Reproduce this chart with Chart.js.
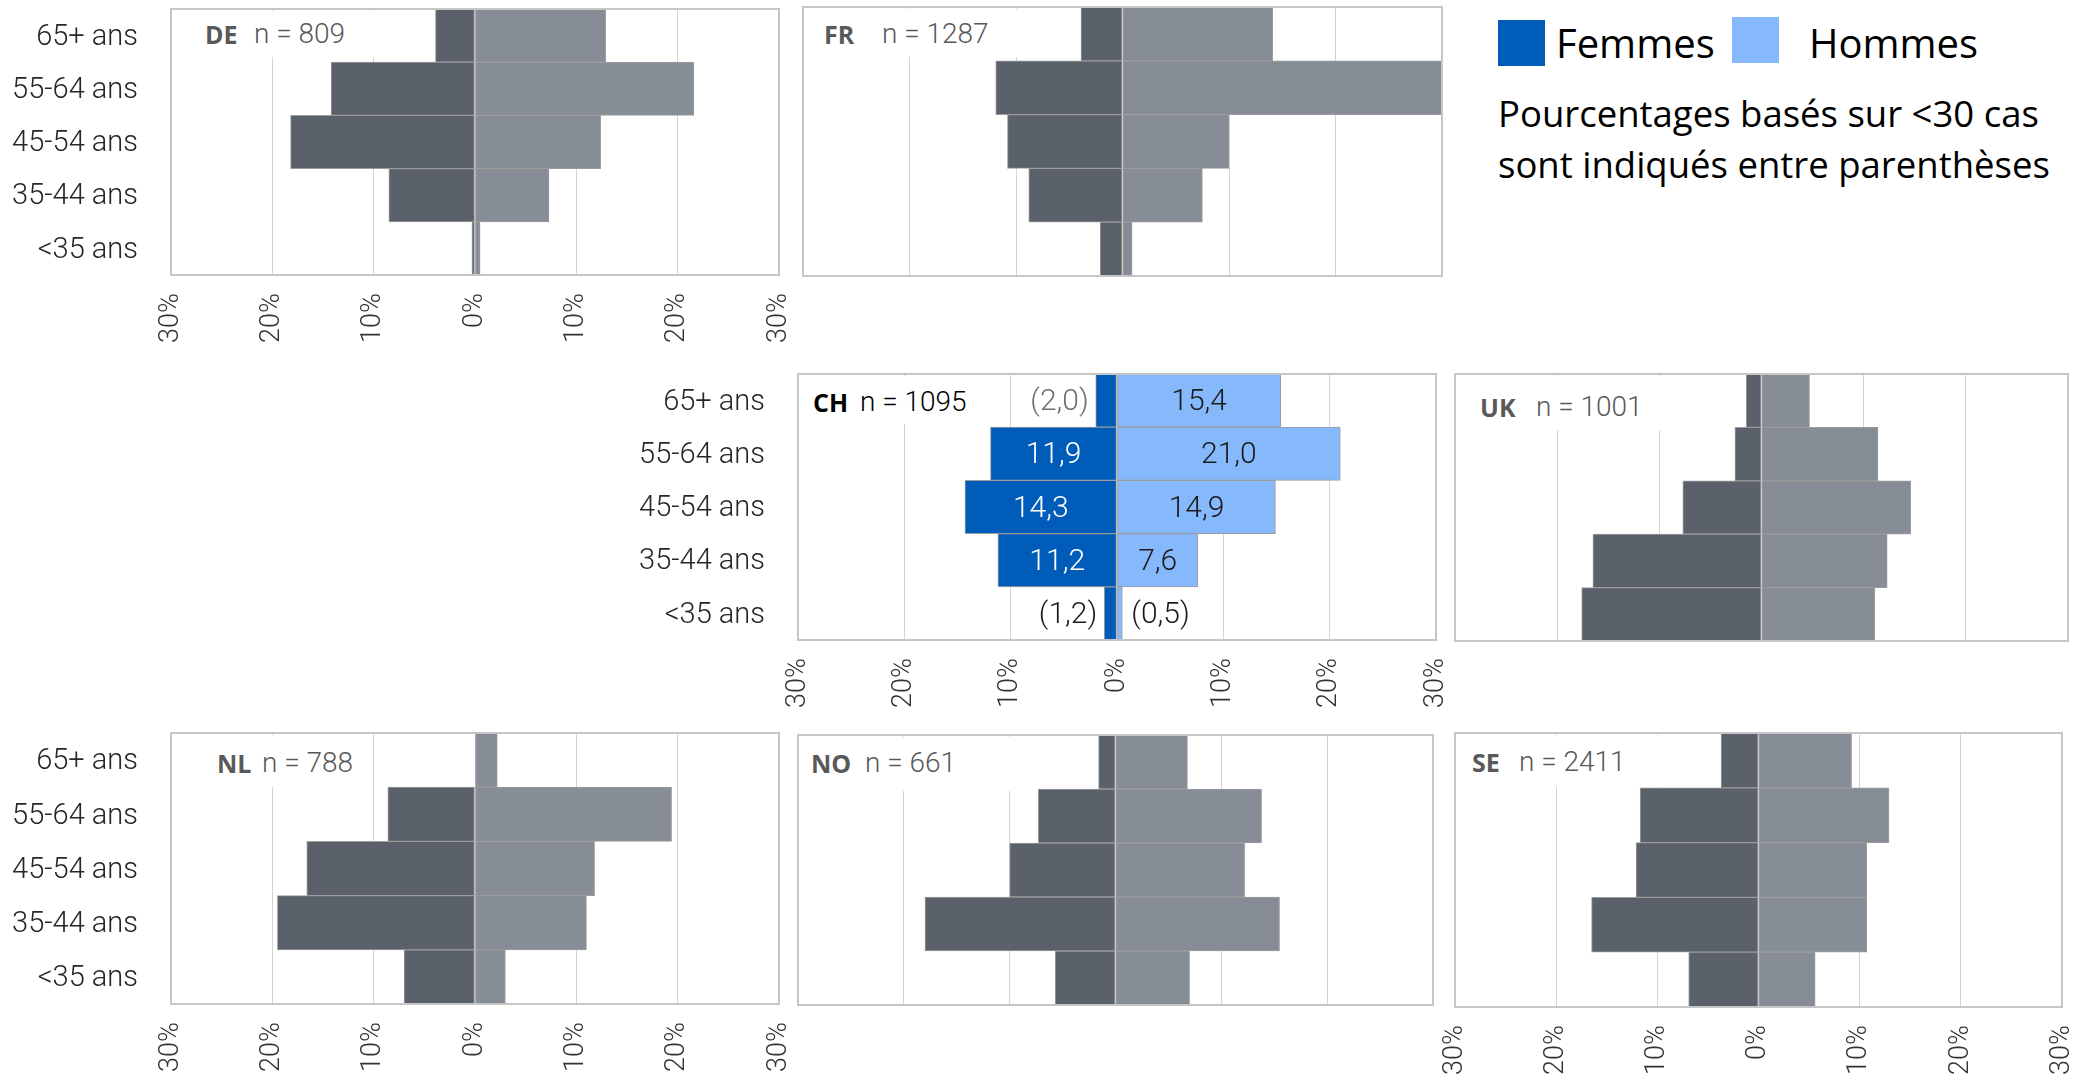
<!DOCTYPE html>
<html>
<head>
<meta charset="utf-8">
<script src="https://cdn.jsdelivr.net/npm/chart.js@4.4.1/dist/chart.umd.min.js"></script>
<style>
  html, body { margin: 0; padding: 0; background: #fff; }
  body { position: relative; width: 2073px; height: 1077px; overflow: hidden; }
  canvas { position: absolute; }
  .pbox { position: absolute; background: #fff; z-index: 2; }
  .pbox span { position: absolute; line-height: 1; white-space: nowrap; }
  .code { font-family: 'Open Sans', 'Noto Sans', sans-serif; font-weight: 700; font-size: 25px; }
  .nval { font-family: 'Roboto', sans-serif; font-weight: 300; font-size: 28px; }
  .legsq { position: absolute; width: 47px; height: 46px; }
  .legtxt { position: absolute; font-family: 'Open Sans', 'Noto Sans', sans-serif; font-size: 40px; line-height: 1; color: #000; white-space: nowrap; }
  .note { position: absolute; left: 1498px; top: 88px; font-family: 'Open Sans', 'Noto Sans', sans-serif; font-size: 36.5px; line-height: 51px; color: #000; white-space: nowrap; }
</style>
</head>
<body>
<script>
// ---------- DATA ----------
const ageGroups = ['65+ ans', '55-64 ans', '45-54 ans', '35-44 ans', '<35 ans'];
const seriesNames = ['Femmes', 'Hommes'];
const axisMin = -30;
const axisMax = 30;
const axisStep = 10;

const deFemmes = [3.9, 14.2, 18.2, 8.5, 0.3];
const deHommes = [12.9, 21.6, 12.4, 7.3, 0.5];
const frFemmes = [3.9, 11.9, 10.8, 8.8, 2.1];
const frHommes = [14.1, 30.0, 10.0, 7.5, 0.9];
const chFemmes = [2.0, 11.9, 14.3, 11.2, 1.2];
const chHommes = [15.4, 21.0, 14.9, 7.6, 0.5];
const ukFemmes = [1.5, 2.6, 7.7, 16.5, 17.6];
const ukHommes = [4.7, 11.4, 14.6, 12.3, 11.1];
const nlFemmes = [0.0, 8.6, 16.6, 19.5, 7.0];
const nlHommes = [2.2, 19.4, 11.8, 11.0, 3.0];
const noFemmes = [1.6, 7.3, 10.0, 18.0, 5.7];
const noHommes = [6.8, 13.8, 12.2, 15.5, 7.0];
const seFemmes = [3.7, 11.7, 12.1, 16.5, 6.9];
const seHommes = [9.2, 12.9, 10.7, 10.7, 5.6];

// CH: percentages based on < 30 cases (shown in parentheses)
const chFemmesSmallN = [true, false, false, false, true];
const chHommesSmallN = [false, false, false, false, true];

const countryCodes = ['DE', 'FR', 'CH', 'UK', 'NL', 'NO', 'SE'];
const sampleSizes = [809, 1287, 1095, 1001, 788, 661, 2411];

// ---------- STYLE / LAYOUT ----------
const labelFont = "'Roboto', sans-serif";
const greyDark = '#5a616b', greyLight = '#878d96';
const blueDark = '#005cb9', blueLight = '#86b9fb';

const panels = [
  { fem: deFemmes, hom: deHommes, left: 171, top: 9, right: 779, bottom: 275, yLab: true, xLab: true,
    box: { w: 219, h: 46, cx: 34, nx: 83, base: 35 } },
  { fem: frFemmes, hom: frHommes, left: 803, top: 7, right: 1442, bottom: 276, yLab: false, xLab: false,
    box: { w: 222, h: 48, cx: 21, nx: 79, base: 37 } },
  { fem: chFemmes, hom: chHommes, left: 798, top: 374, right: 1436, bottom: 640, yLab: true, xLab: true, highlight: true,
    box: { w: 182, h: 48, cx: 15, nx: 62, base: 38 } },
  { fem: ukFemmes, hom: ukHommes, left: 1455, top: 374, right: 2068, bottom: 641, yLab: false, xLab: false,
    box: { w: 210, h: 54, cx: 25, nx: 81, base: 43 } },
  { fem: nlFemmes, hom: nlHommes, left: 171, top: 733, right: 779, bottom: 1004, yLab: true, xLab: true,
    box: { w: 189, h: 52, cx: 46, nx: 91, base: 40 } },
  { fem: noFemmes, hom: noHommes, left: 798, top: 735, right: 1433, bottom: 1005, yLab: false, xLab: false,
    box: { w: 217, h: 54, cx: 13, nx: 67, base: 38 } },
  { fem: seFemmes, hom: seHommes, left: 1455, top: 733, right: 2062, bottom: 1007, yLab: false, xLab: true,
    box: { w: 207, h: 52, cx: 17, nx: 64, base: 39 } }
];

const framePlugin = {
  id: 'panelFrame',
  afterDraw(chart) {
    const { ctx, chartArea: a } = chart;
    ctx.save();
    ctx.strokeStyle = '#c6c6c6';
    ctx.lineWidth = 2;
    ctx.strokeRect(a.left, a.top, a.right - a.left, a.bottom - a.top);
    ctx.restore();
  }
};

const valueLabelPlugin = {
  id: 'valueLabels',
  afterDatasetsDraw(chart, args, opts) {
    if (!opts || !opts.enabled) return;
    const ctx = chart.ctx;
    chart.data.datasets.forEach((ds, di) => {
      const meta = chart.getDatasetMeta(di);
      meta.data.forEach((bar, i) => {
        const v = Math.abs(ds.data[i]);
        let txt = v.toFixed(1).replace('.', ',');
        const small = opts.smallN[di][i];
        ctx.save();
        ctx.font = '300 30px ' + labelFont;
        ctx.textBaseline = 'middle';
        let x;
        if (small) {
          txt = '(' + txt + ')';
          if (di === 0) { ctx.textAlign = 'right'; x = Math.min(bar.x, bar.base) - 7; }
          else { ctx.textAlign = 'left'; x = Math.max(bar.x, bar.base) + 9; }
          ctx.fillStyle = opts.outsideColors[di][i];
        } else {
          ctx.textAlign = 'center';
          x = (bar.x + bar.base) / 2;
          ctx.fillStyle = opts.insideColors[di];
        }
        ctx.fillText(txt, x, bar.y + 2);
        ctx.restore();
      });
    });
  }
};

Chart.defaults.font.family = labelFont;

function buildPanel(p, idx) {
  const yW = p.yLab ? 171 : 14;
  const padT = 4, padR = 18;
  const xH = p.xLab ? 80 : 6;
  const plotW = p.right - p.left, plotH = p.bottom - p.top;
  const canvas = document.createElement('canvas');
  canvas.width = yW + plotW + padR;
  canvas.height = padT + plotH + xH;
  canvas.style.left = (p.left - yW) + 'px';
  canvas.style.top = (p.top - padT) + 'px';
  canvas.style.width = canvas.width + 'px';
  canvas.style.height = canvas.height + 'px';
  document.body.appendChild(canvas);

  const barStyle = { borderColor: '#9c9c9c', borderWidth: 1, borderSkipped: false, barPercentage: 1, categoryPercentage: 1 };

  new Chart(canvas, {
    type: 'bar',
    data: {
      labels: ageGroups,
      datasets: [
        Object.assign({ label: seriesNames[0], data: p.fem.map(v => -v), backgroundColor: p.highlight ? blueDark : greyDark }, barStyle),
        Object.assign({ label: seriesNames[1], data: p.hom.slice(), backgroundColor: p.highlight ? blueLight : greyLight }, barStyle)
      ]
    },
    options: {
      indexAxis: 'y',
      responsive: false,
      animation: false,
      devicePixelRatio: 1,
      events: [],
      layout: { padding: { top: padT, right: padR, left: 0, bottom: 0 } },
      plugins: {
        legend: { display: false },
        tooltip: { enabled: false },
        valueLabels: p.highlight ? {
          enabled: true,
          smallN: [chFemmesSmallN, chHommesSmallN],
          insideColors: ['#ffffff', '#1a1a1a'],
          outsideColors: [['#6f6f6f', '#000', '#000', '#000', '#1a1a1a'], ['#000', '#000', '#000', '#000', '#1a1a1a']]
        } : { enabled: false }
      },
      scales: {
        x: {
          type: 'linear', min: axisMin, max: axisMax, stacked: true,
          grid: { color: '#d4d4d4', lineWidth: 1, drawTicks: false },
          border: { display: false },
          ticks: {
            display: p.xLab, stepSize: axisStep, minRotation: 90, maxRotation: 90, padding: 18,
            color: '#333', font: { family: labelFont, size: 27, weight: 300 },
            callback: v => Math.abs(v) + '%'
          },
          afterFit: s => { s.height = xH; s.paddingLeft = 0; s.paddingRight = 0; }
        },
        y: {
          stacked: true,
          grid: { display: false, drawTicks: false },
          border: { display: false },
          ticks: { display: p.yLab, padding: 33, labelOffset: 2, color: '#262626', font: { family: labelFont, size: 29, weight: 300 } },
          afterFit: s => { s.width = yW; s.paddingTop = 0; s.paddingBottom = 0; }
        }
      }
    },
    plugins: [framePlugin, valueLabelPlugin]
  });

  // panel caption box (country code + sample size)
  const b = p.box;
  const box = document.createElement('div');
  box.className = 'pbox';
  box.style.left = (p.left + 2) + 'px';
  box.style.top = (p.top + 2) + 'px';
  box.style.width = b.w + 'px';
  box.style.height = b.h + 'px';
  const col = p.highlight ? '#000' : '#595959';
  const c = document.createElement('span');
  c.className = 'code';
  c.textContent = countryCodes[idx];
  c.style.left = (b.cx - 2) + 'px';
  c.style.top = (b.base - 2 - 22) + 'px';
  c.style.color = col;
  const n = document.createElement('span');
  n.className = 'nval';
  n.textContent = 'n = ' + sampleSizes[idx];
  n.style.left = (b.nx - 2) + 'px';
  n.style.top = (b.base - 2 - 24) + 'px';
  n.style.color = col;
  box.appendChild(c);
  box.appendChild(n);
  document.body.appendChild(box);
}

panels.forEach((p, i) => buildPanel(p, i));

// legend + note
function addDiv(cls, css, text) {
  const d = document.createElement('div');
  d.className = cls;
  Object.assign(d.style, css);
  if (text) d.textContent = text;
  document.body.appendChild(d);
  return d;
}
addDiv('legsq', { left: '1498px', top: '20px', background: blueDark });
addDiv('legtxt', { left: '1556px', top: '23px' }, seriesNames[0]);
addDiv('legsq', { left: '1732px', top: '17px', background: blueLight });
addDiv('legtxt', { left: '1809px', top: '23px' }, seriesNames[1]);
const note = addDiv('note', {}, '');
note.innerHTML = 'Pourcentages basés sur &lt;30 cas<br>sont indiqués entre parenthèses';
</script>
</body>
</html>
